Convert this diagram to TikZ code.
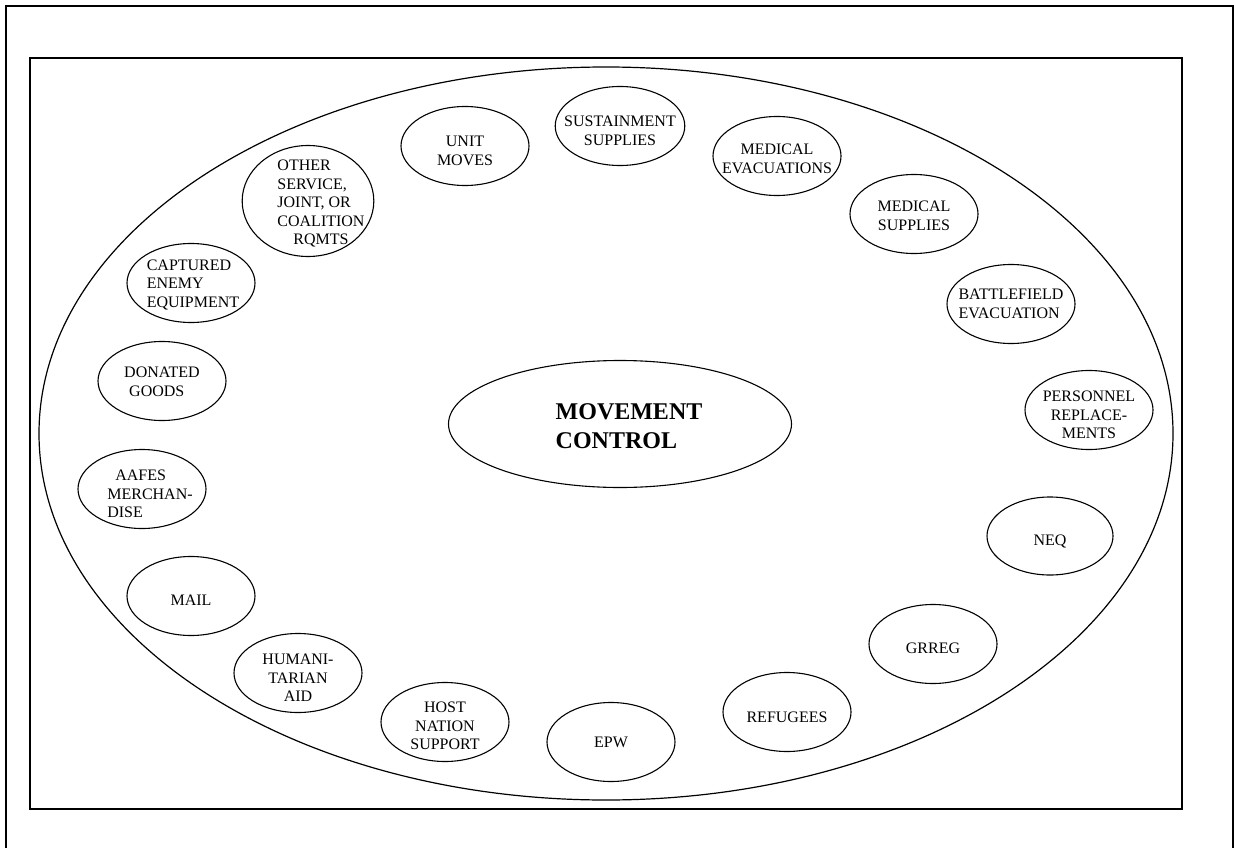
\documentclass[tikz,border=0pt]{standalone}
\usepackage{fontspec}
\setmainfont{Liberation Serif}
\usepackage{tikz}
\usetikzlibrary{shapes.geometric}
\tikzset{
    x=1pt, y=-1pt, % one unit per pixel, y runs downwards
    item/.style={draw, ellipse, line width=1.1pt, inner xsep=-10pt, inner ysep=-25pt,
        minimum width=128pt, minimum height=79pt, align=center,
        font=\fontsize{16}{18.5}\selectfont}, % the small ovals round the ring
    hub/.style={item, minimum width=343pt, minimum height=127pt,
        font=\fontsize{24}{29}\selectfont\bfseries}, % the oval in the middle
    drop/.style={execute at begin node=\rule{0pt}{#1}}, % taller text box, so the text sits lower
    nudge/.style={execute at begin node=\hspace*{#1}}, % pushes the text to the right by half of #1
}
\begin{document}
\begin{tikzpicture}
            \useasboundingbox (0,0) rectangle (1234,848);
            \draw[line width=2pt] (5.5,870) -- (5.5,6.5) -- (1233,6.5) -- (1233,870);
            \draw[line width=1.3pt] (30,58) rectangle (1182,809);

            \node[draw, ellipse, line width=1.2pt, minimum width=1134pt, minimum height=733pt] (ring) at (606,433.5) {};
            \node[hub, align=left, drop=48.9pt, nudge=18pt] (movcon) at (620,424) {MOVEMENT\\CONTROL};

            \node[item, drop=38.8pt] (unit) at (465,146) {UNIT\\MOVES};
            \node[item, drop=38.8pt] (sust) at (620,126) {SUSTAINMENT\\SUPPLIES};
            \node[item, drop=34.8pt] (medevac) at (777,156) {MEDICAL\\EVACUATIONS};
            \node[item, drop=32.8pt] (medsup) at (914,214) {MEDICAL\\SUPPLIES};
            \node[item, align=left] (bfevac) at (1011,304) {BATTLEFIELD\\EVACUATION};
            \node[item, drop=57.3pt] (pers) at (1089,410) {PERSONNEL\\REPLACE-\\MENTS};
            \node[item, drop=22.3pt, minimum width=126pt, minimum height=78pt] (neq) at (1050,536) {NEQ};
            \node[item, drop=18.3pt] (grreg) at (933,644) {GRREG};
            \node[item, drop=20.3pt] (refug) at (787,712) {REFUGEES};
            \node[item] (epw) at (611,742) {EPW};
            \node[item, drop=55.3pt] (hns) at (445,722) {HOST\\NATION\\SUPPORT};
            \node[item, drop=57.3pt] (haid) at (298,673) {HUMANI-\\TARIAN\\AID};
            \node[item, drop=18.3pt] (mail) at (191,596) {MAIL};
            \node[item, align=left, drop=57.3pt, nudge=16pt] (aafes) at (142,489) {\hspace*{8pt}AAFES\\MERCHAN-\\DISE};
            \node[item, align=left, drop=30.8pt] (donated) at (162,381) {DONATED\\\hspace*{5pt}GOODS};
            \node[item, align=left, drop=51.3pt, nudge=4pt] (captured) at (191,283) {CAPTURED\\ENEMY\\EQUIPMENT};
            \node[item, align=left, drop=90.3pt, nudge=26pt, minimum width=130pt, minimum height=111pt] (other) at (308,201)
                {OTHER\\SERVICE,\\JOINT, OR\\COALITION\\\hspace*{16pt}RQMTS};
        \end{tikzpicture}
\end{document}
